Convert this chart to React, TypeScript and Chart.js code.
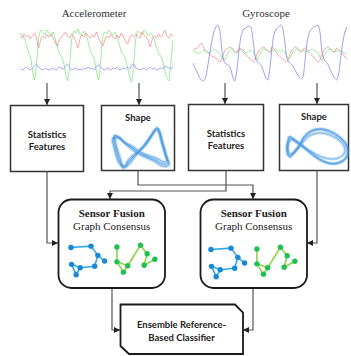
import React, { useEffect, useRef } from "react";
import { Chart, registerables } from "chart.js";
Chart.register(...registerables);

// ---------- Accelerometer signals (height units, 0 = bottom of plot) ----------
const accelRed = [
  46, 44, 48, 45, 47, 43, 46, 49, 44, 34,
  42, 46, 44, 47, 45, 48, 44, 40, 36, 42,
  45, 47, 50, 46, 44, 48, 45, 41, 34, 43,
  47, 45, 49, 46, 44, 47, 45, 50, 44, 40,
  36, 42, 46, 44, 48, 45, 43, 47, 44, 49,
  45, 41, 38, 44, 47, 45, 48, 46, 44, 50,
  47, 45, 42, 35, 43, 46, 44, 48, 45, 47,
  52, 46, 44, 48, 46,
];
const accelGreen = [
  49, 47, 44, 38, 30, 26, 12, 2,
  18, 44, 52, 50, 47, 52, 49, 46, 50, 44, 36, 29, 26, 20, 9, 1,
  16, 42, 51, 49, 53, 48, 46, 51, 47, 40, 31, 27, 22, 10, 2,
  20, 45, 50, 48, 52, 49, 47, 50, 45, 38, 30, 27, 24, 14, 6, 0,
  18, 43, 51, 49, 47, 52, 50, 46, 49, 47, 42, 35, 29, 26, 21, 12, 4, 1,
  20, 42,
];
const accelBlue = [
  14, 12, 13, 15, 13, 12, 14, 16, 18, 15,
  13, 12, 14, 13, 12, 13, 14, 12, 13, 15,
  14, 13, 16, 18, 15, 12, 13, 14, 12, 13,
  12, 14, 13, 15, 13, 14, 12, 16, 17, 15,
  13, 12, 14, 13, 12, 14, 13, 15, 12, 13,
  14, 13, 15, 13, 17, 18, 14, 13, 12, 13,
  14, 12, 13, 15, 13, 14, 12, 13, 14, 13,
  16, 15, 14, 13, 16,
];

// ---------- Gyroscope signals ----------
const gyroBlue = [
  19, 14, 10, 5, 2, 1, 4, 15, 28, 40,
  50, 55, 57, 50, 30, 20, 18, 17, 14, 6,
  1, 10, 30, 45, 52, 54, 55, 56, 54, 40,
  24, 20, 18, 16, 10, 4, 2, 15, 35, 48,
  53, 55, 57, 55, 42, 25, 20, 18, 16, 12,
  8, 5, 3, 6, 25, 42, 50, 53, 55, 56,
  57, 50, 30, 22, 20, 17, 12, 8, 4, 2,
  8, 25, 40, 50, 55,
];
const gyroRed = [
  32, 33, 34, 36, 39, 35, 31, 30, 28, 26,
  25, 24, 22, 20, 24, 30, 33, 34, 35, 33,
  30, 29, 34, 33, 30, 28, 26, 24, 22, 20,
  23, 29, 32, 34, 35, 33, 31, 30, 35, 33,
  30, 27, 25, 23, 21, 20, 24, 30, 33, 35,
  34, 32, 30, 33, 34, 32, 29, 27, 25, 22,
  20, 22, 28, 32, 34, 35, 33, 31, 30, 34,
  32, 30, 28, 25, 23,
];
const gyroGreen = [
  31, 30, 29, 28, 30, 32, 31, 30, 29, 31,
  33, 32, 30, 28, 24, 22, 26, 30, 32, 33,
  31, 30, 31, 33, 32, 30, 29, 31, 32, 30,
  25, 22, 27, 31, 33, 32, 31, 30, 31, 32,
  33, 31, 30, 32, 30, 26, 23, 25, 30, 32,
  33, 31, 30, 32, 31, 30, 31, 33, 32, 31,
  29, 25, 22, 26, 30, 32, 33, 31, 30, 31,
  32, 31, 30, 29, 27,
];

// ---------- Shape (phase portrait) loops ----------
const bowtieA = [[3,33],[6,20],[10,8],[14,3],[18,7],[23,13],[28,18],[34,24],[40,32],[46,41],[49,39],[52,28],[56,14],[58,7],[53,6],[45,10],[36,14],[28,18],[21,23],[14,28],[8,33],[3,33]];
const bowtieB = [[4,35],[7,22],[11,9],[13,2],[19,6],[24,12],[29,19],[35,26],[41,34],[47,42],[50,37],[53,26],[57,12],[59,5],[52,4],[44,9],[35,13],[27,17],[20,22],[13,29],[7,34],[4,35]];
const bowtieC = [[2,31],[5,19],[9,7],[15,4],[17,8],[22,14],[27,17],[33,22],[39,30],[45,39],[48,40],[51,30],[55,16],[57,9],[54,8],[46,12],[37,15],[29,19],[22,24],[15,27],[9,32],[2,31]];
const fishA = [[5,35],[11,31],[17,26],[25,19],[35,12],[47,8],[58,11],[63,19],[60,29],[51,38],[38,43],[26,41],[18,33],[14,26],[9,20],[4,16],[2,25],[5,35]];
const fishB = [[6,33],[12,29],[18,25],[27,20],[37,15],[48,13],[57,16],[60,22],[56,30],[47,36],[36,39],[26,37],[19,31],[14,25],[9,19],[5,18],[3,26],[6,33]];
const fishC = [[4,36],[10,32],[17,27],[24,21],[33,14],[44,9],[55,10],[62,16],[62,26],[55,34],[42,41],[30,42],[20,36],[15,27],[10,21],[5,15],[2,24],[4,36]];

// ---------- Graph consensus nodes / edges ----------
const blueNodes = [[5.7,37],[27.3,38.7],[34.7,27.7],[42,21],[31.3,14.7],[15.7,13],[6.3,17],[11.3,4.7]];
const blueEdges = [[0,1],[1,2],[2,3],[2,4],[4,5],[5,6],[6,7],[5,7]];
const greenNodes = [[55.3,37.7],[80.7,39.7],[88,29.7],[96.3,23],[84.7,16],[67,15.3],[55.3,20],[62.3,7.7]];
const greenEdges = [[0,6],[6,5],[5,1],[1,2],[2,4],[4,3],[6,7],[5,7]];

const baseOptions = (scales: any) => ({
  responsive: false,
  animation: false as const,
  devicePixelRatio: 1,
  events: [] as any[],
  layout: { padding: 0 },
  plugins: { legend: { display: false }, tooltip: { enabled: false } },
  scales,
});

function MiniChart({ left, top, width, height, config }: any) {
  const ref = useRef<HTMLCanvasElement>(null);
  useEffect(() => {
    const chart = new Chart(ref.current as HTMLCanvasElement, config());
    return () => chart.destroy();
  }, []);
  return (
    <canvas
      ref={ref}
      width={width}
      height={height}
      style={{ position: "absolute", left, top, width, height }}
    />
  );
}

const sigDataset = (data: number[], color: string) => ({
  data,
  borderColor: color,
  borderWidth: 0.9,
  pointRadius: 0,
  tension: 0.2,
  clip: 3,
});

const signalConfig = (series: [number[], string][]) => () => ({
  type: "line",
  data: {
    labels: series[0][0].map((_, i) => i),
    datasets: series.map(([d, c]) => sigDataset(d, c)),
  },
  options: baseOptions({
    x: { type: "category", display: false, offset: false },
    y: { display: false, min: -2, max: 60 },
  }),
});

const loopDataset = (pts: number[][], color: string, w: number) => ({
  data: pts.map(([x, y]) => ({ x, y })),
  showLine: true,
  borderColor: color,
  borderWidth: w,
  pointRadius: 0,
  tension: 0.4,
  clip: 4,
});

const shapeConfig = (loops: number[][][], ymax: number) => () => ({
  type: "scatter",
  data: {
    datasets: [
      ...loops.map((l) => loopDataset(l, "rgba(60,150,225,0.3)", 3.2)),
      ...loops.map((l) => loopDataset(l, "rgba(25,115,200,0.5)", 0.8)),
    ],
  },
  options: baseOptions({
    x: { type: "linear", display: false, min: -4, max: 64 },
    y: { type: "linear", display: false, min: -4, max: ymax },
  }),
});

const graphDatasets = (nodes: number[][], edges: number[][], nodeColor: string, edgeColor: string) => [
  {
    data: nodes.map(([x, y]) => ({ x, y })),
    pointRadius: 2.7,
    backgroundColor: nodeColor,
    borderWidth: 0,
    order: 0,
  },
  ...edges.map(([a, b]) => ({
    data: [
      { x: nodes[a][0], y: nodes[a][1] },
      { x: nodes[b][0], y: nodes[b][1] },
    ],
    showLine: true,
    borderColor: edgeColor,
    borderWidth: 1.6,
    pointRadius: 0,
    order: 1,
  })),
];

const graphConfig = () => ({
  type: "scatter",
  data: {
    datasets: [
      ...graphDatasets(blueNodes, blueEdges, "#1b88d6", "#2fa9ea"),
      ...graphDatasets(greenNodes, greenEdges, "#1fc251", "#8fd44a"),
    ],
  },
  options: baseOptions({
    x: { type: "linear", display: false, min: -4, max: 104 },
    y: { type: "linear", display: false, min: -4, max: 46 },
  }),
});

const LINE = "#555";
const serifStyle = { fontFamily: '"Liberation Serif", "Times New Roman", serif' };
const sansStyle = { fontFamily: 'Lato, "Open Sans", sans-serif' };

function Frame() {
  const arrow = (d: string, k: string) => (
    <path key={k} d={d} fill="none" stroke={LINE} strokeWidth={1.2} markerEnd="url(#ah)" />
  );
  return (
    <svg width={351} height={356} style={{ position: "absolute", left: 0, top: 0 }}>
      <defs>
        <marker id="ah" markerWidth={6} markerHeight={6} refX={6} refY={3} orient="auto" markerUnits="userSpaceOnUse">
          <path d="M0,0 L6,3 L0,6 z" fill="#222" />
        </marker>
      </defs>
      <g style={serifStyle} fontSize={11} fill="#333" textAnchor="middle" dominantBaseline="central">
        <text x={94} y={13}>Accelerometer</text>
        <text x={266} y={13}>Gyroscope</text>
      </g>

      {arrow("M47 83 V105", "a1")}
      {arrow("M139 83 V105", "a2")}
      {arrow("M225 83 V104", "a3")}
      {arrow("M317 83 V104", "a4")}

      <rect x={10.5} y={105.5} width={73} height={66} fill="#fff" stroke="#333" strokeWidth={1.5} />
      <rect x={101.5} y={105.5} width={73} height={65} fill="#fff" stroke="#333" strokeWidth={1.5} />
      <rect x={188.5} y={104.5} width={75} height={66} fill="#fff" stroke="#333" strokeWidth={1.5} />
      <rect x={279.5} y={104.5} width={69} height={66} fill="#fff" stroke="#333" strokeWidth={1.5} />

      <g style={sansStyle} fontWeight={700} fontSize={9.5} fill="#222" textAnchor="middle" dominantBaseline="central">
        <text x={47} y={134}>Statistics</text>
        <text x={47} y={146}>Features</text>
        <text x={226} y={133}>Statistics</text>
        <text x={226} y={145}>Features</text>
        <text x={138} y={117}>Shape</text>
        <text x={314} y={116}>Shape</text>
      </g>

      {arrow("M47 171.5 V243 H58", "c1")}
      {arrow("M138 171 V185 H253 V199", "c2")}
      {arrow("M226 171 V191 H110 V199", "c3")}
      {arrow("M317 171 V243 H307", "c4")}
      {arrow("M112 288 V330 H120", "c5")}
      {arrow("M253 288 V330 H243", "c6")}

      <rect x={58.5} y={199.5} width={106.5} height={88.5} rx={13} fill="#fff" stroke="#1a1a1a" strokeWidth={1.8} />
      <rect x={200.5} y={199.5} width={106.5} height={88.5} rx={13} fill="#fff" stroke="#1a1a1a" strokeWidth={1.8} />
      <g style={serifStyle} fill="#222" textAnchor="middle" dominantBaseline="central">
        <text x={111.7} y={213} fontSize={11} fontWeight={700}>Sensor Fusion</text>
        <text x={111.7} y={225.5} fontSize={11}>Graph Consensus</text>
        <text x={253.7} y={213} fontSize={11} fontWeight={700}>Sensor Fusion</text>
        <text x={253.7} y={225.5} fontSize={11}>Graph Consensus</text>
      </g>

      <path d="M120.5 304.5 H235 L243 312.5 V354 H129 L120.5 346 Z" fill="#fff" stroke="#1a1a1a" strokeWidth={1.8} />
      <g style={sansStyle} fontWeight={700} fontSize={9.5} fill="#222" textAnchor="middle" dominantBaseline="central">
        <text x={181.5} y={324}>Ensemble Reference-</text>
        <text x={181.5} y={337}>Based Classifier</text>
      </g>
    </svg>
  );
}

export default function App() {
  return (
    <div style={{ position: "fixed", left: 0, top: 0, width: 351, height: 356, background: "#fff", overflow: "hidden" }}>
      <Frame />
      <MiniChart left={20} top={22} width={153} height={62}
        config={signalConfig([
          [accelRed, "rgba(240,110,110,0.7)"],
          [accelGreen, "rgba(120,225,120,0.8)"],
          [accelBlue, "rgba(110,110,240,0.7)"],
        ])} />
      <MiniChart left={193} top={22} width={154} height={62}
        config={signalConfig([
          [gyroBlue, "rgba(110,110,245,0.75)"],
          [gyroGreen, "rgba(120,225,120,0.8)"],
          [gyroRed, "rgba(240,110,110,0.7)"],
        ])} />
      <MiniChart left={106} top={121} width={68} height={53}
        config={shapeConfig([bowtieA, bowtieB, bowtieC], 49)} />
      <MiniChart left={281} top={124} width={68} height={52}
        config={shapeConfig([fishA, fishB, fishC], 48)} />
      <MiniChart left={58} top={236} width={108} height={50} config={graphConfig} />
      <MiniChart left={198} top={238} width={108} height={50} config={graphConfig} />
    </div>
  );
}
